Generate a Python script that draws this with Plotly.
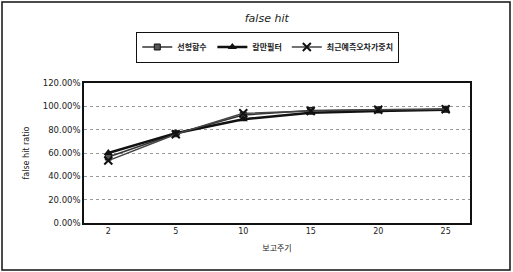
import plotly.graph_objects as go

categories = ["2", "5", "10", "15", "20", "25"]
linear_fn = [0.565, 0.765, 0.925, 0.965, 0.97, 0.975]
kalman = [0.60, 0.77, 0.89, 0.945, 0.96, 0.97]
recent_err = [0.535, 0.76, 0.94, 0.96, 0.97, 0.975]
series_names = ["선형함수", "칼만필터", "최근예측오차가중치"]
y_ticks = [0, 0.2, 0.4, 0.6, 0.8, 1.0, 1.2]

FONT = "Noto Sans CJK KR, DejaVu Sans, sans-serif"

fig = go.Figure()
fig.add_trace(go.Scatter(x=categories, y=linear_fn, name=series_names[0], mode="lines+markers",
                         line=dict(color="#333333", width=1.5),
                         marker=dict(symbol="square", size=6, color="#555555",
                                     line=dict(color="#111111", width=1))))
fig.add_trace(go.Scatter(x=categories, y=kalman, name=series_names[1], mode="lines+markers",
                         line=dict(color="#111111", width=2.5),
                         marker=dict(symbol="triangle-up", size=8, color="#111111")))
fig.add_trace(go.Scatter(x=categories, y=recent_err, name=series_names[2], mode="lines+markers",
                         line=dict(color="#444444", width=1.5),
                         marker=dict(symbol="x-thin", size=8, line=dict(color="#111111", width=2))))

fig.update_layout(
    width=513, height=272,
    margin=dict(l=84, r=43, t=83, b=49, autoexpand=False),
    paper_bgcolor="white", plot_bgcolor="white",
    font=dict(family=FONT, size=8, color="#222222"),
    title=dict(text="<i>false hit</i>", x=0.52, xanchor="center", y=0.935, yanchor="middle",
               font=dict(family="DejaVu Sans, sans-serif", size=11, color="#222222")),
    legend=dict(orientation="h", x=0.522, xanchor="center", xref="container",
                y=1 - 47 / 272, yanchor="middle", yref="container",
                bordercolor="#111111", borderwidth=1, font=dict(size=8, weight="bold"),
                itemwidth=30, tracegroupgap=0),
    xaxis=dict(title=dict(text="보고주기", font=dict(size=8), standoff=10),
               automargin=False,
               showline=True, linecolor="#111111", linewidth=1.5, mirror=True,
               showgrid=False, ticks="", tickfont=dict(size=8, family="DejaVu Sans, sans-serif")),
    yaxis=dict(title=dict(text="false hit ratio", font=dict(size=8, family="DejaVu Sans, sans-serif"), standoff=12),
               automargin=False,
               range=[0, 1.2], tickvals=y_ticks, tickformat=".2%",
               showline=True, linecolor="#111111", linewidth=1.5, mirror=True,
               showgrid=True, gridcolor="#999999", griddash="dot", gridwidth=1,
               ticks="", tickfont=dict(size=8.5, family="DejaVu Sans, sans-serif"),
               zeroline=False),
    shapes=[dict(type="rect", xref="paper", yref="paper",
                 x0=(2 - 84) / 386, x1=(510 - 84) / 386,
                 y0=(223 - 270) / 140, y1=(223 - 2) / 140,
                 line=dict(color="#111111", width=1.5))],
)

fig.write_html("out.html", config={"displayModeBar": False},
               post_script="document.body.style.margin='0';document.body.style.overflow='hidden';")
